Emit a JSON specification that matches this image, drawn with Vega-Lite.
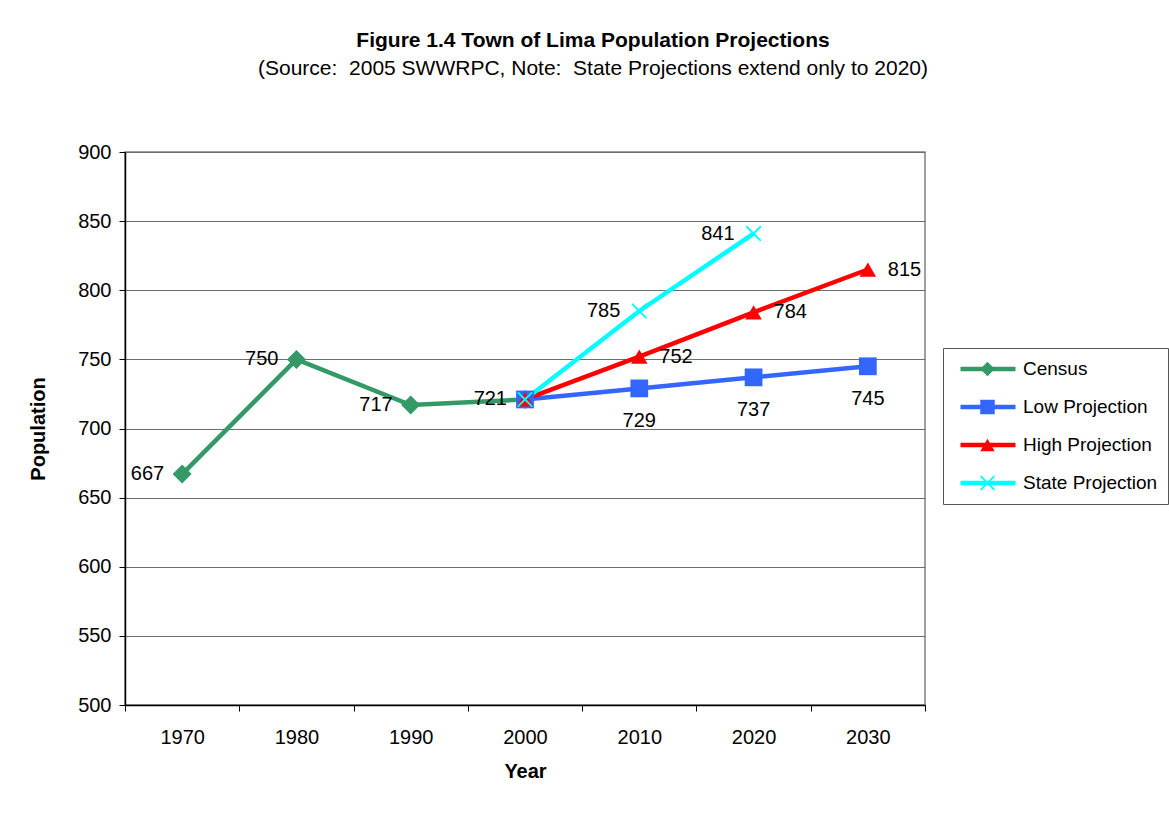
{
  "$schema": "https://vega.github.io/schema/vega-lite/v6.json",
  "autosize": {"type": "none"},
  "width": 800,
  "height": 553,
  "padding": {"left": 125, "top": 152, "right": 244, "bottom": 111},
  "background": "white",
  "config": {
    "font": "Liberation Sans",
    "view": {"stroke": "#808080", "strokeWidth": 1.5},
    "text": {"font": "Liberation Sans"}
  },
  "title": {
    "text": "Figure 1.4 Town of Lima Population Projections",
    "subtitle": "(Source:\u00a0 2005 SWWRPC, Note:\u00a0 State Projections extend only to 2020)",
    "anchor": "middle",
    "dx": 68,
    "offset": 63,
    "font": "Liberation Sans",
    "fontSize": 21,
    "fontWeight": "bold",
    "color": "black",
    "subtitleFont": "Liberation Sans",
    "subtitleFontSize": 21,
    "subtitleColor": "black",
    "subtitlePadding": 7
  },
  "data": {
    "values": [
      {"year": "1970", "series": "Census", "value": 667},
      {"year": "1980", "series": "Census", "value": 750},
      {"year": "1990", "series": "Census", "value": 717},
      {"year": "2000", "series": "Census", "value": 721},
      {"year": "2000", "series": "Low Projection", "value": 721},
      {"year": "2010", "series": "Low Projection", "value": 729},
      {"year": "2020", "series": "Low Projection", "value": 737},
      {"year": "2030", "series": "Low Projection", "value": 745},
      {"year": "2000", "series": "High Projection", "value": 721},
      {"year": "2010", "series": "High Projection", "value": 752},
      {"year": "2020", "series": "High Projection", "value": 784},
      {"year": "2030", "series": "High Projection", "value": 815},
      {"year": "2000", "series": "State Projection", "value": 721},
      {"year": "2010", "series": "State Projection", "value": 785},
      {"year": "2020", "series": "State Projection", "value": 841}
    ]
  },
  "encoding": {
    "x": {
      "field": "year",
      "type": "ordinal",
      "scale": {"type": "band", "paddingInner": 0, "paddingOuter": 0, "domain": ["1970","1980","1990","2000","2010","2020","2030"]},
      "axis": {
        "title": "Year",
        "labelAngle": 0,
        "tickBand": "extent",
        "domainColor": "black",
        "domainWidth": 1.5,
        "tickColor": "black",
        "tickSize": 6,
        "labelFontSize": 20,
        "labelColor": "black",
        "labelPadding": 16,
        "titleFontSize": 20,
        "titleFontWeight": "bold",
        "titleColor": "black",
        "titlePadding": 14
      }
    },
    "y": {
      "field": "value",
      "type": "quantitative",
      "scale": {"domain": [500, 900], "nice": false, "zero": false},
      "axis": {
        "title": "Population",
        "values": [500, 550, 600, 650, 700, 750, 800, 850, 900],
        "domainColor": "black",
        "domainWidth": 1.5,
        "tickColor": "black",
        "tickSize": 6,
        "grid": true,
        "gridColor": "#6e6e6e",
        "gridWidth": 1.2,
        "labelFontSize": 20,
        "labelColor": "black",
        "labelPadding": 8,
        "titleFontSize": 20,
        "titleFontWeight": "bold",
        "titleColor": "black",
        "titlePadding": 29
      }
    }
  },
  "layer": [
    {
      "mark": {"type": "line", "strokeWidth": 4.5},
      "encoding": {
        "stroke": {
          "field": "series",
          "type": "nominal",
          "scale": {
            "domain": ["Census", "Low Projection", "High Projection", "State Projection"],
            "range": ["#339966", "#3366FF", "#FF0000", "#00FFFF"]
          },
          "legend": {
            "title": null,
            "orient": "none",
            "legendX": 818,
            "legendY": 196,
            "symbolType": "stroke",
            "symbolSize": 3025,
            "symbolStrokeWidth": 4.5,
            "strokeColor": "#555555",
            "padding": 10,
            "symbolOffset": 5,
            "labelOffset": 5,
            "clipHeight": 22,
            "rowPadding": 16,
            "labelFontSize": 19,
            "labelColor": "black",
            "labelLimit": 300
          }
        }
      }
    },
    {
      "mark": {"type": "point", "filled": true, "opacity": 1},
      "encoding": {
        "fill": {
          "field": "series",
          "type": "nominal",
          "sort": {"field": "value", "op": "mean"},
          "scale": {"range": ["#339966", "#3366FF", "#FF0000", "#00FFFF"]},
          "legend": {
            "title": null,
            "orient": "none",
            "legendX": 843,
            "legendY": 196,
            "symbolSize": 210,
            "symbolOpacity": 1,
            "padding": 10,
            "clipHeight": 22,
            "rowPadding": 16,
            "labelFontSize": 19,
            "labelExpr": "''",
            "labelLimit": 300
          }
        },
        "shape": {
          "field": "series",
          "type": "nominal",
          "sort": {"field": "value", "op": "mean"},
          "scale": {"range": ["diamond", "square", "triangle-up", "M0,-0.18L0.82,-1L1,-1L1,-0.82L0.18,0L1,0.82L1,1L0.82,1L0,0.18L-0.82,1L-1,1L-1,0.82L-0.18,0L-1,-0.82L-1,-1L-0.82,-1Z"]},
          "legend": {
            "title": null,
            "orient": "none",
            "legendX": 843,
            "legendY": 196,
            "symbolSize": 210,
            "symbolOpacity": 1,
            "padding": 10,
            "clipHeight": 22,
            "rowPadding": 16,
            "labelFontSize": 19,
            "labelExpr": "''",
            "labelLimit": 300
          }
        },
        "size": {
          "field": "series",
          "type": "nominal",
          "sort": ["Census", "Low Projection", "High Projection", "State Projection"],
          "scale": {"range": [361, 225, 529, 441]},
          "legend": null
        }
      }
    },
    {
      "transform": [{"filter": "datum.series == 'Census'"}],
      "mark": {"type": "text", "align": "right", "baseline": "middle", "dx": -18, "fontSize": 20, "color": "black"},
      "encoding": {"text": {"field": "value", "type": "quantitative"}}
    },
    {
      "transform": [{"filter": "datum.series == 'Low Projection' && datum.year != '2000'"}],
      "mark": {"type": "text", "align": "center", "baseline": "middle", "dy": 33, "fontSize": 20, "color": "black"},
      "encoding": {"text": {"field": "value", "type": "quantitative"}}
    },
    {
      "transform": [{"filter": "datum.series == 'High Projection' && datum.year != '2000'"}],
      "mark": {"type": "text", "align": "left", "baseline": "middle", "dx": 20, "fontSize": 20, "color": "black"},
      "encoding": {"text": {"field": "value", "type": "quantitative"}}
    },
    {
      "transform": [{"filter": "datum.series == 'State Projection' && datum.year != '2000'"}],
      "mark": {"type": "text", "align": "right", "baseline": "middle", "dx": -19, "fontSize": 20, "color": "black"},
      "encoding": {"text": {"field": "value", "type": "quantitative"}}
    }
  ]
}
